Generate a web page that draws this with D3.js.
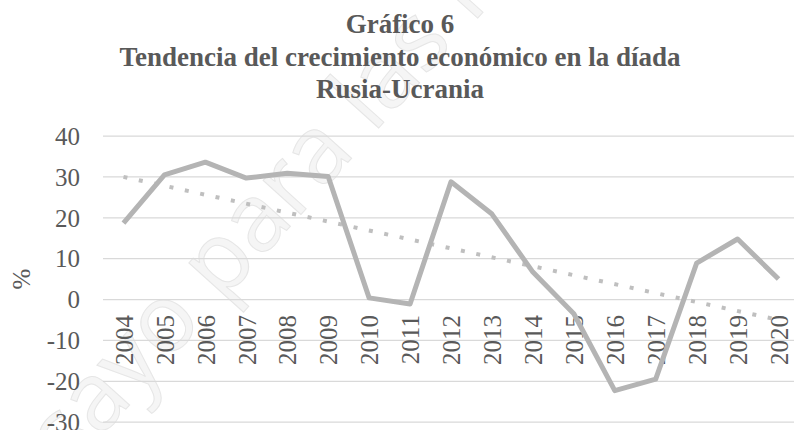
<!DOCTYPE html>
<html>
<head>
<meta charset="utf-8">
<script src="https://cdn.jsdelivr.net/npm/d3@7"></script>
<style>
  html, body { margin: 0; padding: 0; background: #fff; }
  svg { display: block; }
</style>
</head>
<body>
<div id="chart"></div>
<script>
(function(){
  'use strict';

  var years = ['2004','2005','2006','2007','2008','2009','2010','2011','2012',
               '2013','2014','2015','2016','2017','2018','2019','2020'];
  var growth = [18.6, 30.4, 33.5, 29.6, 30.8, 30.0, 0.3, -1.2, 28.7,
                20.8, 6.6, -3.6, -22.4, -19.6, 8.8, 14.7, 4.9];
  var yTicks = [-30, -20, -10, 0, 10, 20, 30, 40];
  var titleLines = ['Gráfico 6', 'Tendencia del crecimiento económico en la díada', 'Rusia-Ucrania'];

  var w = 794,
      h = 430,
      left = 103,
      right = 799,
      serif = '"Liberation Serif", "Times New Roman", serif',
      txtCol = '#595959';

  var svg = d3.select('#chart').append('svg')
    .attr('width', w)
    .attr('height', h);

  // faint watermark behind everything
  var wm = svg.append('g')
    .attr('transform', 'translate(318,153) rotate(-48)');
  var wmText = wm.append('text')
    .attr('font-family', '"Open Sans", sans-serif')
    .attr('font-size', 95)
    .attr('fill', '#f5f5f5')
    .attr('stroke', '#e6e6e6')
    .attr('stroke-width', 1)
    .attr('dy', '0.3em')
    .text('Ensayo para las Relaciones');
  var wn = wmText.node();
  wmText.attr('x', -(wn.getSubStringLength(0, 10) + wn.getSubStringLength(10, 1) / 2));

  var x = d3.scalePoint()
    .domain(years)
    .range([left, right])
    .padding(0.5);

  var y = d3.scaleLinear()
    .domain([-30, 40])
    .range([421.7, 135.6]);

  // title
  svg.append('g').selectAll('text')
    .data(titleLines)
    .enter().append('text')
    .attr('x', 400)
    .attr('y', function(d, i){ return 33 + i * 32.5; })
    .attr('text-anchor', 'middle')
    .attr('font-family', serif)
    .attr('font-weight', 'bold')
    .attr('font-size', 27)
    .attr('fill', txtCol)
    .text(function(d){ return d; });

  // y axis + gridlines
  var yAxis = d3.axisLeft(y)
    .tickValues(yTicks)
    .tickSize(-(right - left))
    .tickFormat(d3.format('d'));

  var gy = svg.append('g')
    .attr('transform', 'translate(' + left + ',0)')
    .call(yAxis);
  gy.select('.domain').remove();
  gy.selectAll('.tick line')
    .attr('stroke', '#d9d9d9')
    .attr('stroke-width', 1.3);
  gy.selectAll('.tick text')
    .attr('font-family', serif)
    .attr('font-size', 25)
    .attr('fill', txtCol)
    .attr('x', 80 - left)
    .attr('dy', '0.35em')
    .text(function(d){ return d < 0 ? '-' + Math.abs(d) : d; });

  // y title
  svg.append('text')
    .attr('transform', 'translate(21,279) rotate(-90)')
    .attr('text-anchor', 'middle')
    .attr('dy', '0.35em')
    .attr('font-family', serif)
    .attr('font-size', 25)
    .attr('fill', txtCol)
    .text('%');

  // x axis labels at zero line
  var xAxis = d3.axisBottom(x).tickSize(0);
  var gx = svg.append('g')
    .attr('transform', 'translate(0,' + y(0) + ')')
    .call(xAxis);
  gx.select('.domain').remove();
  gx.selectAll('.tick text')
    .attr('font-family', serif)
    .attr('font-size', 25)
    .attr('fill', txtCol)
    .attr('text-anchor', 'end')
    .attr('transform', 'translate(0,16) rotate(-90)')
    .attr('x', 0)
    .attr('y', 0)
    .attr('dy', '0.35em');

  // linear trend (least squares)
  var n = growth.length,
      mx = d3.mean(growth, function(d, i){ return i; }),
      my = d3.mean(growth),
      sxy = d3.sum(growth, function(d, i){ return (i - mx) * (d - my); }),
      sxx = d3.sum(growth, function(d, i){ return (i - mx) * (i - mx); }),
      slope = sxy / sxx,
      icpt = my - slope * mx;
  var trend = [0, n - 1].map(function(i){ return {yr: years[i], v: icpt + slope * i}; });

  var line = d3.line()
    .x(function(d){ return x(d.yr); })
    .y(function(d){ return y(d.v); });

  svg.append('path')
    .datum(trend)
    .attr('d', line)
    .attr('fill', 'none')
    .attr('stroke', '#bfbfbf')
    .attr('stroke-width', 4)
    .attr('stroke-dasharray', '4,11.7');

  svg.append('path')
    .datum(years.map(function(yr, i){ return {yr: yr, v: growth[i]}; }))
    .attr('d', line)
    .attr('fill', 'none')
    .attr('stroke', '#b4b4b4')
    .attr('stroke-width', 5)
    .attr('stroke-linejoin', 'round');

}());
</script>
</body>
</html>
